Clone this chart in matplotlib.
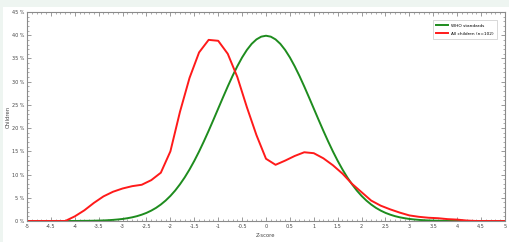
import matplotlib

matplotlib.use("Agg")
import matplotlib.pyplot as plt
from matplotlib.patches import Rectangle
from matplotlib.ticker import FuncFormatter, MultipleLocator

# WHO reference curve, read every 0.1 z
who_z = [round(-5 + 0.1 * i, 1) for i in range(101)]
who_standard = [
    0, 0, 0, 0, 0, 0, 0, 0, 0, 0,
    0.01, 0.02, 0.03, 0.04, 0.06, 0.09, 0.12, 0.17, 0.24, 0.33,
    0.44, 0.6, 0.79, 1.04, 1.36, 1.75, 2.24, 2.83, 3.55, 4.4,
    5.4, 6.56, 7.9, 9.4, 11.09, 12.95, 14.97, 17.14, 19.42, 21.79,
    24.2, 26.61, 28.97, 31.23, 33.32, 35.21, 36.83, 38.14, 39.1, 39.69,
    39.89,
    39.69, 39.1, 38.14, 36.83, 35.21, 33.32, 31.23, 28.97, 26.61, 24.2,
    21.79, 19.42, 17.14, 14.97, 12.95, 11.09, 9.4, 7.9, 6.56, 5.4,
    4.4, 3.55, 2.83, 2.24, 1.75, 1.36, 1.04, 0.79, 0.6, 0.44,
    0.33, 0.24, 0.17, 0.12, 0.09, 0.06, 0.04, 0.03, 0.02, 0.01,
    0, 0, 0, 0, 0, 0, 0, 0, 0, 0,
]

# observed children, every 0.2 z
children_z = [round(-5 + 0.2 * i, 1) for i in range(51)]
all_children = [
    0, 0, 0, 0, 0, 1.0, 2.3, 3.9, 5.3, 6.3,
    7.0, 7.5, 7.8, 8.8, 10.4, 15.0, 23.5, 30.8, 36.3, 39.0,
    38.8, 36.0, 31.0, 24.5, 18.5, 13.4, 12.1, 13.0, 14.0, 14.8,
    14.6, 13.5, 12.0, 10.2, 8.0, 6.2, 4.4, 3.3, 2.5, 1.8,
    1.2, 0.9, 0.7, 0.6, 0.4, 0.3, 0.1, 0, 0, 0,
    0,
]

x_ticks = [-5 + 0.5 * i for i in range(21)]

fig = plt.figure(figsize=(5.1, 2.42), dpi=100, facecolor="#eef5f1")
# white panel behind the chart, leaving a thin tinted strip top and left
fig.patches.append(
    Rectangle((3 / 510, 0), 1, 1 - 7 / 242, transform=fig.transFigure,
              facecolor="white", edgecolor="none", zorder=-10)
)
ax = fig.add_axes([27 / 510, 21 / 242, 478 / 510, 209 / 242])

ax.plot(who_z, who_standard, color="#1e8c1e", lw=1.4, label="WHO standards")
ax.plot(children_z, all_children, color="#ff1a1a", lw=1.4, label="All children (n=102)")

ax.set_xlim(-5, 5)
ax.set_ylim(0, 45)
ax.set_xticks(x_ticks)
ax.xaxis.set_minor_locator(MultipleLocator(0.1))
ax.yaxis.set_major_locator(MultipleLocator(5))
ax.yaxis.set_minor_locator(MultipleLocator(1))
ax.xaxis.set_major_formatter(FuncFormatter(lambda v, p: f"{v:g}"))
ax.yaxis.set_major_formatter(FuncFormatter(lambda v, p: f"{v:g} %"))

for spine in ax.spines.values():
    spine.set_color("#8a8a8a")
    spine.set_linewidth(0.8)
ax.tick_params(which="both", direction="in", top=True, right=True,
               color="#8a8a8a", labelsize=3.5, labelcolor="#444444", pad=2)
ax.tick_params(which="major", length=3, width=0.6)
ax.tick_params(which="minor", length=1.5, width=0.5)

ax.set_xlabel("Z-score", fontsize=3.8, color="#444444", labelpad=3)
ax.set_ylabel("Children", fontsize=3.8, color="#444444", labelpad=1)

leg = ax.legend(loc="upper right", fontsize=3.1, frameon=True, fancybox=False,
                edgecolor="#bbbbbb", handlelength=2.6, borderpad=0.8,
                labelspacing=0.9, bbox_to_anchor=(0.988, 0.97))
leg.get_frame().set_linewidth(0.5)

fig.savefig("out.png", dpi=100, facecolor=fig.get_facecolor())
